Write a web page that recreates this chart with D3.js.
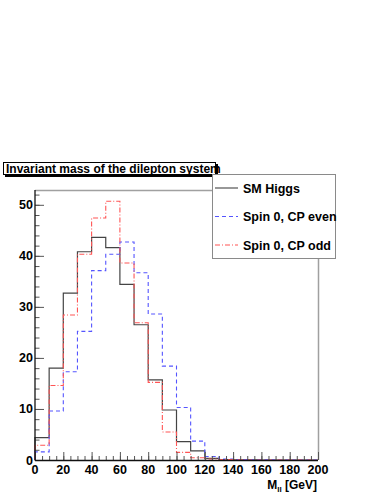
<!DOCTYPE html>
<html>
<head>
<meta charset="utf-8">
<script src="https://cdn.jsdelivr.net/npm/d3@7"></script>
<style>
  body { margin: 0; background: #fff; }
  svg { display: block; font-family: "Liberation Sans", Arial, sans-serif; }
</style>
</head>
<body>
<svg></svg>
<script>
// bin edges 0..200 GeV, width 10
var binEdges = d3.range(0, 201, 10);
var smHiggs = [4.4, 18.0, 32.7, 40.8, 43.6, 41.6, 34.4, 26.5, 15.7, 9.8, 3.6, 1.8, 0.3, 0.1, 0.05, 0.05, 0, 0, 0, 0];
var cpEven  = [1.6, 9.6, 17.3, 25.2, 37.1, 40.3, 42.7, 36.7, 28.6, 18.4, 10.3, 3.7, 0.7, 0.2, 0.1, 0.05, 0.05, 0, 0, 0];
var cpOdd   = [2.9, 14.6, 28.4, 40.3, 47.4, 50.7, 38.6, 26.9, 15.2, 5.5, 1.5, 0.45, 0.2, 0.1, 0.05, 0, 0, 0, 0, 0];
var legendNames = ["SM Higgs", "Spin 0, CP even", "Spin 0, CP odd"];
var xTicks = [0, 20, 40, 60, 80, 100, 120, 140, 160, 180, 200];
var yTicks = [0, 10, 20, 30, 40, 50];

var svgWidth = 382, svgHeight = 494;
var svg = d3.select('svg')
    .attr("width", svgWidth)
    .attr("height", svgHeight);

var xScale = d3.scaleLinear().domain([0, 200]).range([35, 318]);
var yScale = d3.scaleLinear().domain([0, 52.9]).range([460, 190]);

// frame (gray top / right)
svg.append("line")
    .attr("x1", 35).attr("x2", 318.5).attr("y1", 190.5).attr("y2", 190.5)
    .attr("stroke", "#a0a0a0").attr("stroke-width", 1.5);
svg.append("line")
    .attr("x1", 318.5).attr("x2", 318.5).attr("y1", 190).attr("y2", 460)
    .attr("stroke", "#a0a0a0").attr("stroke-width", 1.5);

// histograms as steps
function stepPoints(values) {
    var pts = [[0, 0]];
    values.forEach(function(v, i) {
        pts.push([binEdges[i], v]);
        pts.push([binEdges[i + 1], v]);
    });
    pts.push([200, 0]);
    return pts;
}
var line = d3.line()
    .x(function(d) { return xScale(d[0]); })
    .y(function(d) { return yScale(d[1]); });

var series = [
    { name: legendNames[0], values: smHiggs, color: "#444", dash: null, width: 1.2 },
    { name: legendNames[1], values: cpEven, color: "#5555ff", dash: "4,3", width: 1.1 },
    { name: legendNames[2], values: cpOdd, color: "#ff5555", dash: "5,2,1,2", width: 1.1 }
];

svg.selectAll("path.hist")
    .data(series)
    .enter()
    .append("path")
    .attr("class", "hist")
    .attr("d", function(d) { return line(stepPoints(d.values)); })
    .attr("fill", "none")
    .attr("stroke", function(d) { return d.color; })
    .attr("stroke-width", function(d) { return d.width; })
    .attr("stroke-dasharray", function(d) { return d.dash; });

// axes
var yAxis = d3.axisRight(yScale).tickValues(yTicks).tickSize(9).tickFormat("");
var yMinor = d3.axisRight(yScale).tickValues(d3.range(0, 53, 2)).tickSize(4.5).tickFormat("");
var xAxis = d3.axisTop(xScale).tickValues(xTicks).tickSize(8).tickFormat("");
var xMinor = d3.axisTop(xScale).tickValues(d3.range(0, 201, 5)).tickSize(4).tickFormat("");

[yMinor, yAxis].forEach(function(ax) {
    var g = svg.append("g").attr("transform", "translate(35,0)").call(ax);
    g.select(".domain").remove();
    g.selectAll("line").attr("stroke", "#555");
});
[xMinor, xAxis].forEach(function(ax) {
    var g = svg.append("g").attr("transform", "translate(0,460)").call(ax);
    g.select(".domain").remove();
    g.selectAll("line").attr("stroke", "#555");
});
svg.append("line").attr("x1", 35).attr("x2", 35).attr("y1", 190).attr("y2", 460.5)
    .attr("stroke", "#111").attr("stroke-width", 1.3);
svg.append("line").attr("x1", 35).attr("x2", 318).attr("y1", 460.5).attr("y2", 460.5)
    .attr("stroke", "#111").attr("stroke-width", 1.3);

// tick labels
svg.selectAll("text.ylab")
    .data(yTicks)
    .enter()
    .append("text")
    .attr("class", "ylab")
    .attr("x", 33)
    .attr("y", function(d) { return yScale(d) + 4.5; })
    .attr("text-anchor", "end")
    .attr("font-size", 12.5)
    .attr("font-weight", "bold")
    .text(function(d) { return d; });

svg.selectAll("text.xlab")
    .data(xTicks)
    .enter()
    .append("text")
    .attr("class", "xlab")
    .attr("x", function(d) { return xScale(d); })
    .attr("y", 474)
    .attr("text-anchor", "middle")
    .attr("font-size", 12.5)
    .attr("font-weight", "bold")
    .text(function(d) { return d; });

// x axis title
var xt = svg.append("text")
    .attr("x", 317)
    .attr("y", 489)
    .attr("text-anchor", "end")
    .attr("font-size", 12)
    .attr("font-weight", "bold");
xt.append("tspan").text("M");
xt.append("tspan").attr("font-size", 8).attr("dy", 2.5).text("ll");
xt.append("tspan").attr("dy", -2.5).text(" [GeV]");

// title box
svg.append("rect").attr("x", 5).attr("y", 164).attr("width", 213).attr("height", 13).attr("fill", "#000");
svg.append("rect").attr("x", 3.5).attr("y", 162.5).attr("width", 212).attr("height", 12)
    .attr("fill", "#fff").attr("stroke", "#000").attr("stroke-width", 1);
svg.append("text")
    .attr("x", 6)
    .attr("y", 172.5)
    .attr("font-size", 12)
    .attr("font-weight", "bold")
    .text("Invariant mass of the dilepton system");

// legend
svg.append("rect").attr("x", 212.5).attr("y", 174.5).attr("width", 123).attr("height", 84)
    .attr("fill", "#fff").attr("stroke", "#8a8a8a").attr("stroke-width", 1);

var legend = svg.selectAll("g.leg")
    .data(series)
    .enter()
    .append("g")
    .attr("class", "leg")
    .attr("transform", function(d, i) { return "translate(0," + (188 + i * 28.5) + ")"; });
legend.append("line")
    .attr("x1", 215).attr("x2", 238).attr("y1", 0).attr("y2", 0)
    .attr("stroke", function(d) { return d.color; })
    .attr("stroke-width", 1.1)
    .attr("stroke-dasharray", function(d) { return d.dash; });
legend.append("text")
    .attr("x", 243)
    .attr("y", 4.5)
    .attr("font-size", 12.5)
    .attr("font-weight", "bold")
    .text(function(d) { return d.name; });
</script>
</body>
</html>
